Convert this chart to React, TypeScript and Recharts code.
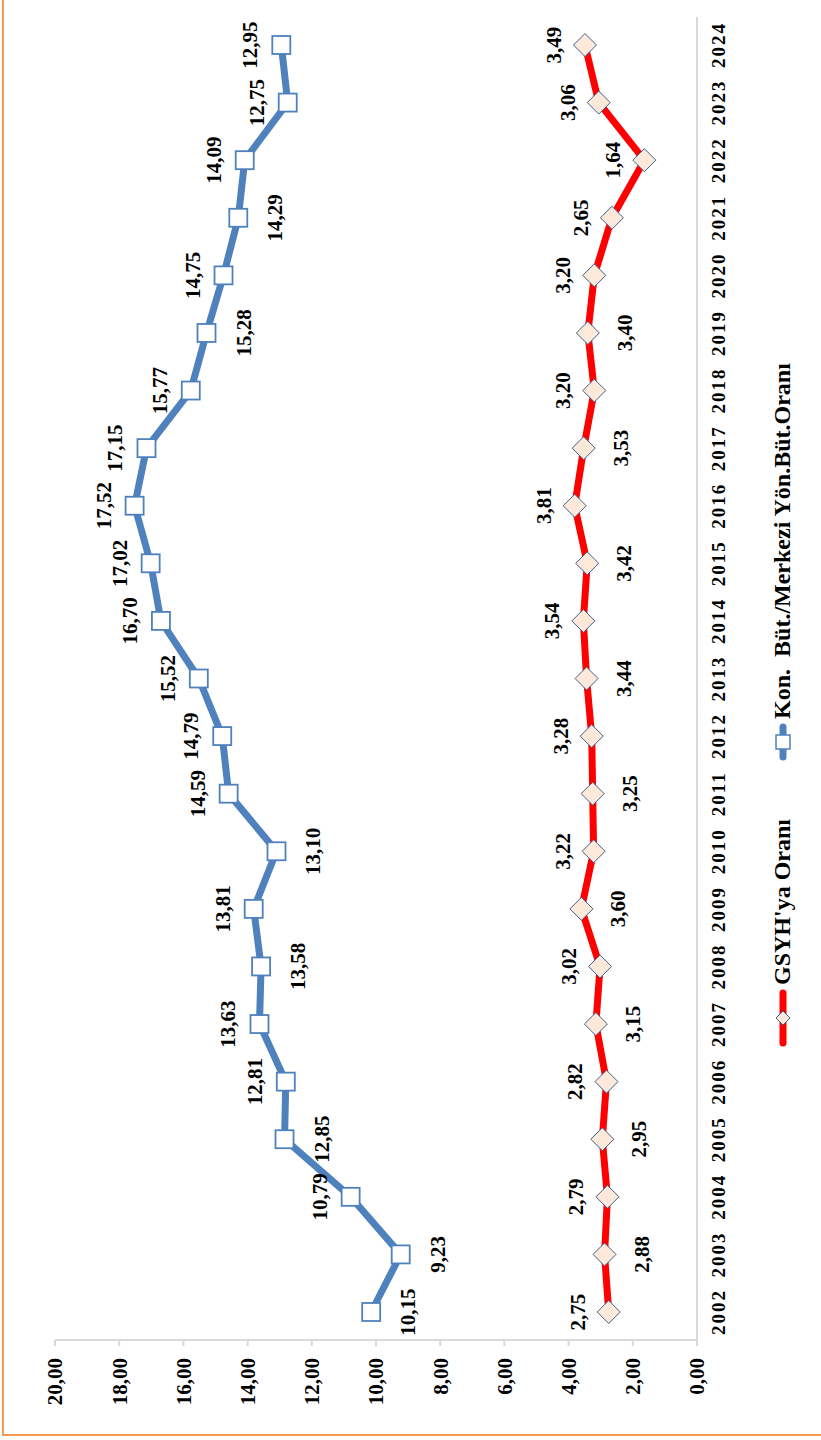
import React from 'react';
import { LineChart, Line, XAxis, YAxis, Legend, LabelList } from 'recharts';

const years = [
  '2002', '2003', '2004', '2005', '2006', '2007', '2008', '2009', '2010', '2011', '2012', '2013',
  '2014', '2015', '2016', '2017', '2018', '2019', '2020', '2021', '2022', '2023', '2024',
];
const butceOrani = [
  10.15, 9.23, 10.79, 12.85, 12.81, 13.63, 13.58, 13.81, 13.1, 14.59, 14.79, 15.52,
  16.7, 17.02, 17.52, 17.15, 15.77, 15.28, 14.75, 14.29, 14.09, 12.75, 12.95,
];
const gsyhOrani = [
  2.75, 2.88, 2.79, 2.95, 2.82, 3.15, 3.02, 3.6, 3.22, 3.25, 3.28, 3.44,
  3.54, 3.42, 3.81, 3.53, 3.2, 3.4, 3.2, 2.65, 1.64, 3.06, 3.49,
];
const valueTicks = [0, 2, 4, 6, 8, 10, 12, 14, 16, 18, 20];

// which side of the point each data label sits on
const butceLabelSide = [
  'below', 'below', 'above', 'below', 'above', 'above', 'below', 'above', 'below', 'above', 'above', 'above',
  'above', 'above', 'above', 'above', 'above', 'below', 'above', 'below', 'above', 'above', 'above',
];
const gsyhLabelSide = [
  'above', 'below', 'above', 'below', 'above', 'below', 'above', 'below', 'above', 'below', 'above', 'below',
  'above', 'below', 'above', 'below', 'above', 'below', 'above', 'above', 'above', 'above', 'above',
];

const data = years.map((year, i) => ({ year, butce: butceOrani[i], gsyh: gsyhOrani[i] }));

const FONT = '"Liberation Serif", "Times New Roman", serif';
const BLUE = '#4F81BD';
const RED = '#FF0000';
const AXIS = '#D9D9D9';

const fmt = (v: number) => v.toFixed(2).replace('.', ',');

const makeLabel = (sides: string[]) => (props: any) => {
  const { x, y, value, index } = props;
  if (x == null || y == null) return null;
  const dy = sides[index] === 'above' ? -31 : 37;
  return (
    <text
      x={x}
      y={y + dy}
      textAnchor="middle"
      dominantBaseline="central"
      fontSize={21}
      fontWeight="bold"
      fontFamily={FONT}
      fill="#000"
    >
      {fmt(Number(value))}
    </text>
  );
};

const SquareDot = (props: any) => {
  const { cx, cy, index } = props;
  if (cx == null || cy == null) return null;
  return (
    <rect key={`sq-${index}`} x={cx - 9} y={cy - 9} width={18} height={18} fill="#fff" stroke={BLUE} strokeWidth={1.8} />
  );
};

const DiamondDot = (props: any) => {
  const { cx, cy, index } = props;
  if (cx == null || cy == null) return null;
  const r = 11.5;
  return (
    <polygon
      key={`dm-${index}`}
      points={`${cx},${cy - r} ${cx + r},${cy} ${cx},${cy + r} ${cx - r},${cy}`}
      fill="#FDE9D9"
      stroke="#3F5F8F"
      strokeWidth={1}
    />
  );
};

const legendItems = [
  { name: "GSYH'ya Oranı", color: RED, marker: 'diamond', lineLen: 58 },
  { name: 'Kon.  Büt./Merkezi Yön.Büt.Oranı', color: BLUE, marker: 'square', lineLen: 38 },
];

const LegendContent = () => (
  <div style={{ display: 'flex', alignItems: 'center', fontFamily: FONT, fontWeight: 'bold', fontSize: 24, color: '#000' }}>
    {legendItems.map((it, i) => (
      <div key={it.name} style={{ display: 'flex', alignItems: 'center', marginRight: i === 0 ? 58 : 0 }}>
        <svg width={it.lineLen} height={20} style={{ marginRight: 4 }}>
          <line x1={4} y1={10} x2={it.lineLen - 4} y2={10} stroke={it.color} strokeWidth={7} strokeLinecap="round" />
          {it.marker === 'diamond' ? (
            <polygon
              points={`${it.lineLen / 2},3 ${it.lineLen / 2 + 7},10 ${it.lineLen / 2},17 ${it.lineLen / 2 - 7},10`}
              fill="#FDE9D9"
              stroke="#3F5F8F"
              strokeWidth={1}
            />
          ) : (
            <rect x={it.lineLen / 2 - 7} y={3} width={14} height={14} fill="#fff" stroke={BLUE} strokeWidth={1.5} />
          )}
        </svg>
        <span style={{ whiteSpace: 'pre' }}>{it.name}</span>
      </div>
    ))}
  </div>
);

export default function App() {
  return (
    <div style={{ position: 'absolute', left: 0, top: 0, width: 821, height: 1440, overflow: 'hidden', background: '#fff' }}>
      <div
        style={{
          position: 'absolute',
          left: 0,
          top: 0,
          width: 1440,
          height: 821,
          transformOrigin: '0 0',
          transform: 'translateY(1440px) rotate(-90deg)',
        }}
      >
        <LineChart width={1440} height={821} data={data} margin={{ top: 55, right: 17, bottom: 84, left: 10 }}>
          <XAxis
            dataKey="year"
            height={40}
            padding={{ left: 28, right: 28 }}
            axisLine={{ stroke: AXIS, strokeWidth: 2 }}
            tickLine={false}
            tickSize={6}
            tickMargin={9}
            interval={0}
            tick={{ fontSize: 19, fontWeight: 'bold', fontFamily: FONT, fill: '#000', letterSpacing: 2 }}
          />
          <YAxis
            width={90}
            domain={[0, 20]}
            ticks={valueTicks}
            tickFormatter={fmt}
            axisLine={{ stroke: AXIS, strokeWidth: 2 }}
            tickLine={{ stroke: AXIS, strokeWidth: 2 }}
            tickSize={6}
            tickMargin={12}
            tick={{ fontSize: 21, fontWeight: 'bold', fontFamily: FONT, fill: '#000' }}
          />
          <Legend
            layout="horizontal"
            verticalAlign="middle"
            align="center"
            content={<LegendContent />}
            wrapperStyle={{ left: 393, top: 769, width: 760, height: 30 }}
          />
          <Line
            dataKey="butce"
            stroke={BLUE}
            strokeWidth={7}
            strokeLinejoin="round"
            dot={SquareDot}
            activeDot={false}
            isAnimationActive={false}
          >
            <LabelList dataKey="butce" content={makeLabel(butceLabelSide)} />
          </Line>
          <Line
            dataKey="gsyh"
            stroke={RED}
            strokeWidth={7}
            strokeLinejoin="round"
            dot={DiamondDot}
            activeDot={false}
            isAnimationActive={false}
          >
            <LabelList dataKey="gsyh" content={makeLabel(gsyhLabelSide)} />
          </Line>
        </LineChart>
      </div>
      <div style={{ position: 'absolute', left: 2, top: 0, width: 2, height: 1436, background: '#F39A4F' }} />
      <div style={{ position: 'absolute', left: 2, top: 1434, width: 819, height: 2, background: '#F39A4F' }} />
    </div>
  );
}
